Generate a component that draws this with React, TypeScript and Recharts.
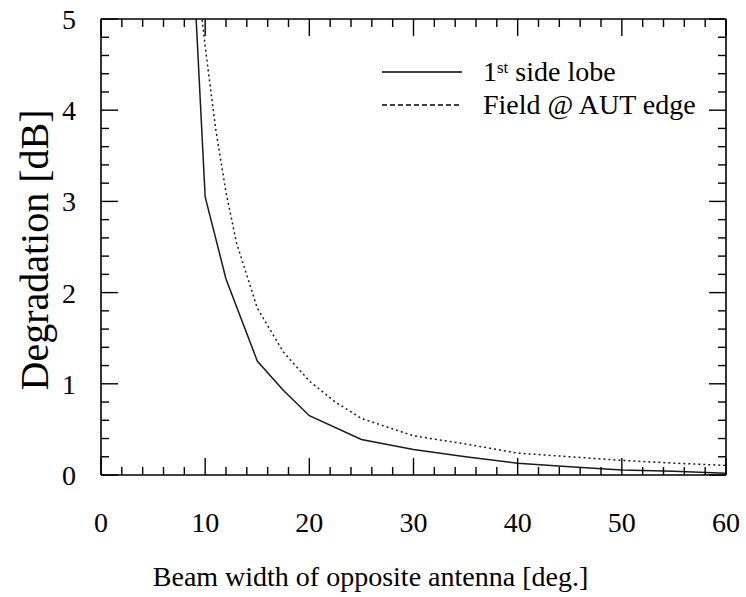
import React from 'react';
import { LineChart, Line, XAxis, YAxis, Legend, Label, ReferenceLine } from 'recharts';

// 1st side lobe degradation
const sideLobeX = [9, 10, 12, 15, 17.5, 20, 25, 30, 35, 40, 45, 50, 55, 60];
const sideLobeY = [5.3, 3.05, 2.15, 1.25, 0.93, 0.65, 0.39, 0.28, 0.2, 0.13, 0.09, 0.055, 0.04, 0.02];

// Field @ AUT edge degradation
const fieldX = [9.6, 10, 11, 12, 13, 15, 17.5, 20, 22.5, 25, 30, 35, 40, 45, 50, 55, 60];
const fieldY = [5.1, 4.7, 3.8, 3.1, 2.55, 1.83, 1.35, 1.03, 0.8, 0.62, 0.43, 0.34, 0.24, 0.2, 0.16, 0.13, 0.105];

const xMajorTicks = [0, 10, 20, 30, 40, 50, 60];
const xMinorTicks = [0, 2, 4, 6, 8, 10, 12, 14, 16, 18, 20, 22, 24, 26, 28, 30, 32, 34, 36, 38, 40, 42, 44, 46, 48, 50, 52, 54, 56, 58, 60];
const yMajorTicks = [0, 1, 2, 3, 4, 5];
const yMinorTicks = [0, 0.2, 0.4, 0.6, 0.8, 1, 1.2, 1.4, 1.6, 1.8, 2, 2.2, 2.4, 2.6, 2.8, 3, 3.2, 3.4, 3.6, 3.8, 4, 4.2, 4.4, 4.6, 4.8, 5];

const seriesNames = ['1st side lobe', 'Field @ AUT edge'];
const xTitle = 'Beam width of opposite antenna [deg.]';
const yTitle = 'Degradation [dB]';

const sideLobeData = sideLobeX.map((x, i) => ({ x, v: sideLobeY[i] }));
const fieldData = fieldX.map((x, i) => ({ x, v: fieldY[i] }));

const FONT = '"Liberation Serif", "Times New Roman", serif';
const INK = '#000';

// layout
const W = 746;
const H = 597;
const MARGIN = { top: 18, right: 19, bottom: 121, left: 100 };
const PLOT_W = W - MARGIN.left - MARGIN.right - 2;
const PLOT_H = H - MARGIN.top - MARGIN.bottom - 2;
const X_MAX = 60;
const Y_MAX = 5;
const MAJOR_LEN = 17;
const MINOR_LEN = 8;
const TICK_W = 1.4;

const renderLegend = (props: any) => {
  const items = props.payload || [];
  return (
    <div style={{ fontFamily: FONT, fontSize: 28, color: INK, lineHeight: '33px' }}>
      {items.map((entry: any, i: number) => {
        const label: string = entry.value;
        const dash = entry.payload && entry.payload.strokeDasharray;
        return (
          <div key={i} style={{ display: 'flex', alignItems: 'center', height: 33, whiteSpace: 'nowrap' }}>
            <svg width={80} height={10} style={{ display: 'block' }}>
              <line x1={0} y1={5} x2={80} y2={5} stroke={INK} strokeWidth={1.3} strokeDasharray={dash ? '5 3' : undefined} />
            </svg>
            <span style={{ marginLeft: 21 }}>
              {label.startsWith('1st') ? (
                <>1<sup style={{ fontSize: 17, verticalAlign: 'top', lineHeight: '26px' }}>st</sup>{label.slice(3)}</>
              ) : (
                label
              )}
            </span>
          </div>
        );
      })}
    </div>
  );
};

const NoLabel = () => <g />;

// bottom axis tick: inward marks on bottom edge + label for majors
const BottomTick = (props: any) => {
  const x = props.x;
  const bottom = props.y;
  const v = props.payload ? props.payload.value : 0;
  const major = xMajorTicks.includes(v);
  const len = major ? MAJOR_LEN : MINOR_LEN;
  return (
    <g>
      <line x1={x} y1={bottom} x2={x} y2={bottom - len} stroke={INK} strokeWidth={TICK_W} />
      {major && (
        <text x={x} y={bottom + 57} textAnchor="middle" fontFamily={FONT} fontSize={28} fill={INK}>
          {v}
        </text>
      )}
    </g>
  );
};

// left axis tick: inward marks on right edge + label for majors
const LeftTick = (props: any) => {
  const y = props.y;
  const left = props.x;
  const right = left + PLOT_W;
  const v = props.payload ? props.payload.value : 0;
  const major = yMajorTicks.includes(v);
  const len = major ? MAJOR_LEN : MINOR_LEN;
  return (
    <g>
      <line x1={right} y1={y} x2={right - len} y2={y} stroke={INK} strokeWidth={TICK_W} />
      {major && (
        <text x={left - 25} y={y + 10} textAnchor="end" fontFamily={FONT} fontSize={28} fill={INK}>
          {v}
        </text>
      )}
    </g>
  );
};

// tick lengths expressed in data units for the top and left edge marks
const xLen = (px: number) => (px * X_MAX) / PLOT_W;
const yLen = (px: number) => (px * Y_MAX) / PLOT_H;

const common = {
  type: 'number' as const,
  allowDataOverflow: true,
  interval: 0 as const,
};

const frameStroke = { stroke: INK, strokeWidth: 1.6 };

export default function App() {
  return (
    <div style={{ position: 'absolute', left: 0, top: 0, width: W, height: H, background: '#fff' }}>
      <LineChart width={W} height={H} margin={MARGIN}>
        <XAxis
          {...common}
          xAxisId="x"
          dataKey="x"
          orientation="bottom"
          domain={[0, X_MAX]}
          ticks={xMinorTicks}
          height={1}
          tickSize={0}
          tickMargin={0}
          axisLine={frameStroke}
          tickLine={false}
          tick={BottomTick}
        >
          <Label
            content={(p: any) => {
              const vb = p.viewBox || {};
              return (
                <text
                  x={vb.x + vb.width / 2 - 43}
                  y={586}
                  textAnchor="middle"
                  fontFamily={FONT}
                  fontSize={28}
                  fill={INK}
                >
                  {xTitle}
                </text>
              );
            }}
          />
        </XAxis>
        <XAxis {...common} xAxisId="xt" dataKey="x" orientation="top" domain={[0, X_MAX]} ticks={xMajorTicks} height={1}
          tickSize={0} tick={NoLabel} axisLine={frameStroke} tickLine={false} />

        <YAxis
          {...common}
          yAxisId="y"
          orientation="left"
          domain={[0, Y_MAX]}
          ticks={yMinorTicks}
          width={1}
          tickSize={0}
          tickMargin={0}
          axisLine={frameStroke}
          tickLine={false}
          tick={LeftTick}
        >
          <Label
            content={(p: any) => {
              const vb = p.viewBox || {};
              const cx = 34;
              const cy = vb.y + vb.height / 2 + 3;
              return (
                <text
                  x={cx}
                  y={cy}
                  transform={`rotate(-90, ${cx}, ${cy})`}
                  textAnchor="middle"
                  dominantBaseline="central"
                  fontFamily={FONT}
                  fontSize={40}
                  fill={INK}
                >
                  {yTitle}
                </text>
              );
            }}
          />
        </YAxis>
        <YAxis {...common} yAxisId="yr" orientation="right" domain={[0, Y_MAX]} ticks={yMajorTicks} width={1}
          tickSize={0} tick={NoLabel} axisLine={frameStroke} tickLine={false} />

        {/* inward tick marks along the top edge */}
        {xMinorTicks.map((v) => (
          <ReferenceLine
            key={`t${v}`}
            xAxisId="x"
            yAxisId="y"
            ifOverflow="visible"
            segment={[
              { x: v, y: Y_MAX },
              { x: v, y: Y_MAX - yLen(xMajorTicks.includes(v) ? MAJOR_LEN : MINOR_LEN) },
            ]}
            stroke={INK}
            strokeWidth={TICK_W}
          />
        ))}
        {/* inward tick marks along the left edge */}
        {yMinorTicks.map((v) => (
          <ReferenceLine
            key={`l${v}`}
            xAxisId="x"
            yAxisId="y"
            ifOverflow="visible"
            segment={[
              { x: 0, y: v },
              { x: xLen(yMajorTicks.includes(v) ? MAJOR_LEN : MINOR_LEN), y: v },
            ]}
            stroke={INK}
            strokeWidth={TICK_W}
          />
        ))}

        <Line
          xAxisId="x"
          yAxisId="y"
          data={sideLobeData}
          dataKey="v"
          name={seriesNames[0]}
          type="linear"
          stroke="#1a1a1a"
          strokeWidth={1.5}
          dot={false}
          activeDot={false}
          isAnimationActive={false}
        />
        <Line
          xAxisId="x"
          yAxisId="y"
          data={fieldData}
          dataKey="v"
          name={seriesNames[1]}
          type="linear"
          stroke="#1a1a1a"
          strokeWidth={1.5}
          strokeDasharray="2 3"
          dot={false}
          activeDot={false}
          isAnimationActive={false}
        />
        <Legend
          layout="horizontal"
          verticalAlign="middle"
          align="center"
          content={renderLegend}
          wrapperStyle={{ top: 55, left: 382, width: 'auto', height: 'auto' }}
        />
      </LineChart>
    </div>
  );
}
